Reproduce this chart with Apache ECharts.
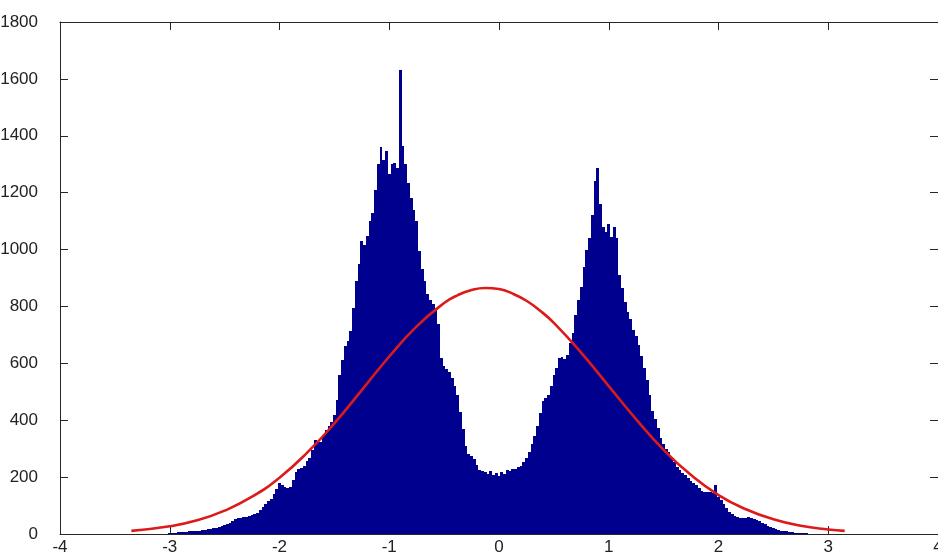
<!DOCTYPE html>
<html>
<head>
<meta charset="utf-8">
<script src="https://cdn.jsdelivr.net/npm/echarts@6/dist/echarts.min.js"></script>
<style>
html,body{margin:0;padding:0;background:#fff;}
#chart{width:938px;height:560px;}
</style>
</head>
<body>
<div id="chart"></div>
<script>
// Histogram: bins of width 0.025 starting at -3.0 (bin centres)
const binStart = -3.0;
const binWidth = 0.025;
const counts = [
  3,5,5,6,6,7,8,9,9,10,
  11,12,14,15,17,18,21,22,25,27,
  31,34,38,44,52,56,57,59,60,63,
  66,69,74,84,95,104,115,124,140,158,
  178,172,165,162,165,190,218,228,233,240,
  255,268,295,330,325,322,345,365,378,392,
  420,470,560,612,660,680,715,795,890,950,
  1030,1015,1048,1100,1127,1210,1300,1360,1315,1345,
  1265,1300,1305,1285,1632,1365,1300,1235,1180,1140,
  1100,995,930,890,845,822,808,795,740,620,
  592,580,568,548,522,490,430,370,310,280,
  273,262,242,226,222,218,212,222,208,216,
  205,218,212,225,220,228,230,236,240,252,
  268,288,315,345,380,425,468,478,490,520,
  558,584,620,622,615,628,672,705,770,822,
  870,940,1000,1040,1120,1240,1285,1160,1080,1060,
  1090,1045,1080,1040,910,865,815,780,755,718,
  695,665,625,585,540,488,432,405,372,338,
  318,300,288,272,252,235,226,215,206,196,
  188,181,174,163,152,148,148,146,144,172,
  130,118,106,93,78,70,64,60,58,56,
  58,59,58,53,49,45,40,34,29,25,
  20,16,13,12,10,9,7,6,5,4,
  3,2,2,1
];
// Fitted normal curve
const fitX = [-3.35,-3.0,-2.75,-2.5,-2.25,-2.0,-1.75,-1.5,-1.25,-1.0,-0.75,-0.5,-0.375,-0.25,-0.125,0,0.125,0.25,0.375,0.5,0.75,1.0,1.25,1.5,1.75,2.0,2.25,2.5,2.75,3.0,3.15];
const fitY = [11,27,48,82,131,198,285,389,506,624,730,812,840,858,865,861,845,820,785,742,637,520,403,296,207,137,87,52,29,16,11];
// Axis ticks
const xTicks = [-4,-3,-2,-1,0,1,2,3,4];
const yTicks = [0,200,400,600,800,1000,1200,1400,1600,1800];

const histData = counts.map((c, i) => [binStart + i * binWidth, c]);
const fitData = fitX.map((x, i) => [x, fitY[i]]);

const chart = echarts.init(document.getElementById('chart'), null, {renderer: 'canvas'});
const axisColor = '#262626';
const labelStyle = {color: '#222', fontSize: 17, fontFamily: 'Liberation Sans, Arial, sans-serif', formatter: function (v) { return String(v); }};

chart.setOption({
  animation: false,
  backgroundColor: '#ffffff',
  grid: {left: 60, top: 22, width: 878, height: 512, containLabel: false, outerBoundsMode: 'none'},
  xAxis: [{
    type: 'value', min: xTicks[0], max: xTicks[xTicks.length - 1], interval: 1,
    position: 'bottom',
    axisLine: {show: true, onZero: false, lineStyle: {color: axisColor, width: 1}},
    axisTick: {show: true, inside: true, length: 8, lineStyle: {color: axisColor}},
    axisLabel: Object.assign({margin: 5, hideOverlap: false}, labelStyle),
    splitLine: {show: false}
  }, {
    type: 'value', min: xTicks[0], max: xTicks[xTicks.length - 1], interval: 1,
    position: 'top',
    axisLine: {show: true, onZero: false, lineStyle: {color: axisColor, width: 1}},
    axisTick: {show: true, inside: true, length: 8, lineStyle: {color: axisColor}},
    axisLabel: {show: false},
    splitLine: {show: false}
  }],
  yAxis: [{
    type: 'value', min: yTicks[0], max: yTicks[yTicks.length - 1], interval: 200,
    position: 'left',
    axisLine: {show: true, onZero: false, lineStyle: {color: axisColor, width: 1}},
    axisTick: {show: true, inside: true, length: 8, lineStyle: {color: axisColor}},
    axisLabel: Object.assign({margin: 22}, labelStyle),
    splitLine: {show: false}
  }, {
    type: 'value', min: yTicks[0], max: yTicks[yTicks.length - 1], interval: 200,
    position: 'right',
    axisLine: {show: true, onZero: false, lineStyle: {color: axisColor, width: 1}},
    axisTick: {show: true, inside: true, length: 8, lineStyle: {color: axisColor}},
    axisLabel: {show: false},
    splitLine: {show: false}
  }],
  series: [{
    type: 'custom',
    xAxisIndex: 0, yAxisIndex: 0,
    data: histData,
    renderItem: function (params, api) {
      const x = api.value(0), y = api.value(1);
      const p1 = api.coord([x - binWidth / 2, y]);
      const p2 = api.coord([x + binWidth / 2, 0]);
      const left = Math.round(p1[0]);
      const right = Math.round(p2[0]);
      const top = Math.round(p1[1]);
      const bottom = Math.round(p2[1]);
      return {
        type: 'rect',
        shape: {x: left, y: top, width: Math.max(1, right - left), height: bottom - top},
        style: {fill: '#00008f', stroke: null}
      };
    },
    z: 2
  }, {
    type: 'line',
    xAxisIndex: 0, yAxisIndex: 0,
    data: fitData,
    smooth: true,
    symbol: 'none',
    lineStyle: {color: '#dc1a1a', width: 2.6},
    z: 5
  }]
});
</script>
</body>
</html>
